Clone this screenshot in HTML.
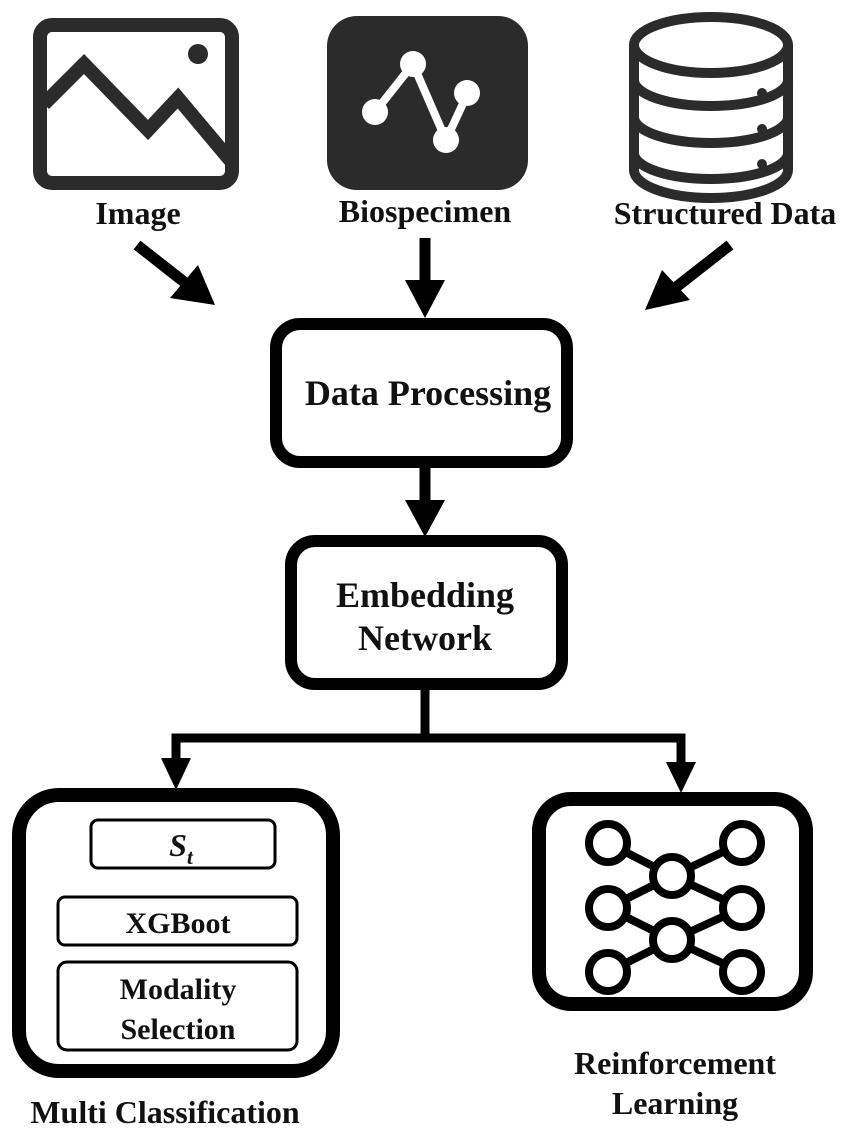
<!DOCTYPE html>
<html><head><style>
html,body{margin:0;padding:0;background:#fff}
svg{display:block}
text{font-family:"Liberation Serif",serif;font-weight:bold;fill:#111;text-anchor:middle}
</style></head><body>
<svg width="850" height="1133" viewBox="0 0 850 1133" xmlns="http://www.w3.org/2000/svg">
<!-- Image icon -->
<rect x="40" y="25" width="192" height="158" rx="12" fill="none" stroke="#2b2b2b" stroke-width="14"/>
<polyline points="44,104 84,64 148,130 178,98 230,160" fill="none" stroke="#2b2b2b" stroke-width="14"/>
<circle cx="198" cy="54" r="10" fill="#2b2b2b"/>
<!-- Biospecimen -->
<rect x="327" y="16" width="201" height="174" rx="30" fill="#2b2b2b"/>
<polyline points="375,112 413,64 446,140 467,95" fill="none" stroke="#fff" stroke-width="8"/>
<circle cx="375" cy="112" r="13" fill="#fff"/>
<circle cx="413" cy="64" r="13" fill="#fff"/>
<circle cx="446" cy="140" r="13" fill="#fff"/>
<circle cx="467" cy="93" r="13" fill="#fff"/>
<!-- Database -->
<g fill="none" stroke="#2b2b2b" stroke-width="10">
<ellipse cx="711" cy="45" rx="77" ry="28"/>
<path d="M634,45 V170 A77,28 0 0 0 788,170 V45"/>
<path d="M634,80 A77,26 0 0 0 788,80"/>
<path d="M634,117 A77,26 0 0 0 788,117"/>
<path d="M634,153 A77,26 0 0 0 788,153"/>
</g>
<circle cx="762" cy="93" r="5" fill="#2b2b2b"/>
<circle cx="762" cy="129" r="5" fill="#2b2b2b"/>
<circle cx="762" cy="164" r="5" fill="#2b2b2b"/>
<!-- labels -->
<text x="138" y="224" font-size="32">Image</text>
<text x="425" y="222" font-size="32">Biospecimen</text>
<text x="725" y="224" font-size="32">Structured Data</text>
<!-- top arrows -->
<g fill="#000" stroke="#000">
<line x1="137" y1="245" x2="188" y2="285" stroke-width="11"/>
<polygon points="215,305 170,298 198,265" stroke="none"/>
<line x1="425" y1="238" x2="425" y2="282" stroke-width="11"/>
<polygon points="425,318 405,280 445,280" stroke="none"/>
<line x1="730" y1="245" x2="675" y2="288" stroke-width="11"/>
<polygon points="645,310 662,270 690,300" stroke="none"/>
</g>
<!-- Data Processing -->
<rect x="276" y="324" width="291" height="138" rx="24" fill="none" stroke="#000" stroke-width="12"/>
<text x="428" y="405" font-size="36">Data Processing</text>
<line x1="425" y1="468" x2="425" y2="505" stroke="#000" stroke-width="11"/>
<polygon points="425,537 405,500 445,500" fill="#000"/>
<!-- Embedding -->
<rect x="291" y="541" width="271" height="143" rx="24" fill="none" stroke="#000" stroke-width="12"/>
<text x="425" y="607" font-size="36">Embedding</text>
<text x="425" y="650" font-size="36">Network</text>
<!-- branch -->
<polyline points="425,690 425,738 176,738 176,762" fill="none" stroke="#000" stroke-width="9"/>
<polyline points="425,738 681,738 681,765" fill="none" stroke="#000" stroke-width="9"/>
<polygon points="176,790 161,758 191,758" fill="#000"/>
<polygon points="681,793 666,762 696,762" fill="#000"/>
<!-- Multi box -->
<rect x="19" y="795" width="314" height="276" rx="40" fill="none" stroke="#000" stroke-width="14"/>
<rect x="91" y="820" width="184" height="48" rx="7" fill="none" stroke="#000" stroke-width="3"/>
<text x="181" y="856" font-size="32" font-style="italic">S<tspan font-size="21" dy="8">t</tspan></text>
<rect x="58" y="897" width="239" height="48" rx="7" fill="none" stroke="#000" stroke-width="3"/>
<text x="178" y="933" font-size="30">XGBoot</text>
<rect x="58" y="962" width="239" height="88" rx="9" fill="none" stroke="#000" stroke-width="3"/>
<text x="178" y="999" font-size="30">Modality</text>
<text x="178" y="1039" font-size="30">Selection</text>
<text x="165" y="1123" font-size="32">Multi Classification</text>
<!-- RL box -->
<rect x="539" y="799" width="267" height="205" rx="32" fill="none" stroke="#000" stroke-width="14"/>
<g stroke="#000" stroke-width="8" fill="none">
<line x1="608" y1="843" x2="672" y2="876"/><line x1="742" y1="843" x2="672" y2="876"/>
<line x1="608" y1="908" x2="672" y2="876"/><line x1="742" y1="908" x2="672" y2="876"/>
<line x1="608" y1="908" x2="672" y2="940"/><line x1="742" y1="908" x2="672" y2="940"/>
<line x1="608" y1="972" x2="672" y2="940"/><line x1="742" y1="972" x2="672" y2="940"/>
</g>
<g stroke="#000" stroke-width="8" fill="#fff">
<circle cx="608" cy="843" r="19"/><circle cx="608" cy="908" r="19"/><circle cx="608" cy="972" r="19"/>
<circle cx="742" cy="843" r="19"/><circle cx="742" cy="908" r="19"/><circle cx="742" cy="972" r="19"/>
<circle cx="672" cy="876" r="19"/><circle cx="672" cy="940" r="19"/>
</g>
<text x="675" y="1074" font-size="32">Reinforcement</text>
<text x="675" y="1114" font-size="32">Learning</text>
</svg>
</body></html>
